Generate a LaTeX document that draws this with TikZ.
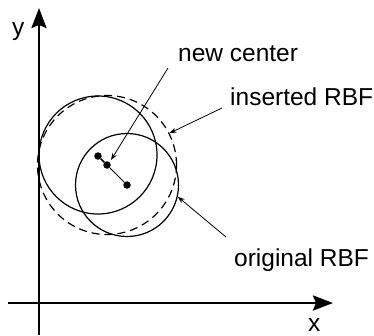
\documentclass[tikz,border=0pt]{standalone}
\usepackage{fontspec}
\setmainfont{Liberation Sans}
\usetikzlibrary{arrows.meta}
\begin{document}
\begin{tikzpicture}[x=1pt,y=-1pt,
  axis/.style={line width=2.6pt,-{Stealth[length=20pt,width=15pt,inset=3pt]}},
  rbf/.style={circle,draw,line width=1.2pt,inner sep=0pt},
  dashrbf/.style={circle,draw,line width=1.2pt,inner sep=0pt,dash pattern=on 8pt off 5pt},
  dot/.style={circle,fill,inner sep=0pt,minimum size=7.5pt},
  pointer/.style={line width=0.8pt,-{Stealth[length=7pt,width=5pt]}},
  lbl/.style={font=\fontsize{24.5}{28}\selectfont,inner sep=0pt,anchor=base west}]
\useasboundingbox (0,0) rectangle (374,335);
% axes
\coordinate (ys) at (39,335);
\coordinate (ye) at (39,8);
\coordinate (xs) at (8,303);
\coordinate (xe) at (333,303);
\draw[axis] (ys) -- (ye);
\draw[axis] (xs) -- (xe);
\node[lbl] (ylab) at (12,35) {y};
\node[lbl] (xlab) at (308,331) {x};
% circles
\node[rbf,minimum size=118pt] (c1) at (98,155) {};
\node[rbf,minimum size=103pt] (orig) at (127,185) {};
\node[dashrbf,minimum size=139pt] (ins) at (107,165) {};
% centres
\node[dot] (d1) at (98,156) {};
\node[dot] (d2) at (107,165) {};
\node[dot] (d3) at (127,185) {};
\draw[line width=1.6pt] (d1) -- (d2);
\draw[line width=0.8pt] (d2) -- (d3);
% labels
\node[lbl] (nc) at (178,61) {new center};
\node[lbl] (ir) at (230,105) {inserted RBF};
\node[lbl] (or) at (234,266) {original RBF};
\coordinate (nct) at (168,68);
\coordinate (irt) at (222,108);
\coordinate (ort) at (226,237);
\coordinate (nch) at (111,160);
\draw[pointer] (nct) -- (nch);
\draw[pointer] (irt) -- (ins.27);
\draw[pointer] (ort) -- (orig.-13);
\end{tikzpicture}
\end{document}
